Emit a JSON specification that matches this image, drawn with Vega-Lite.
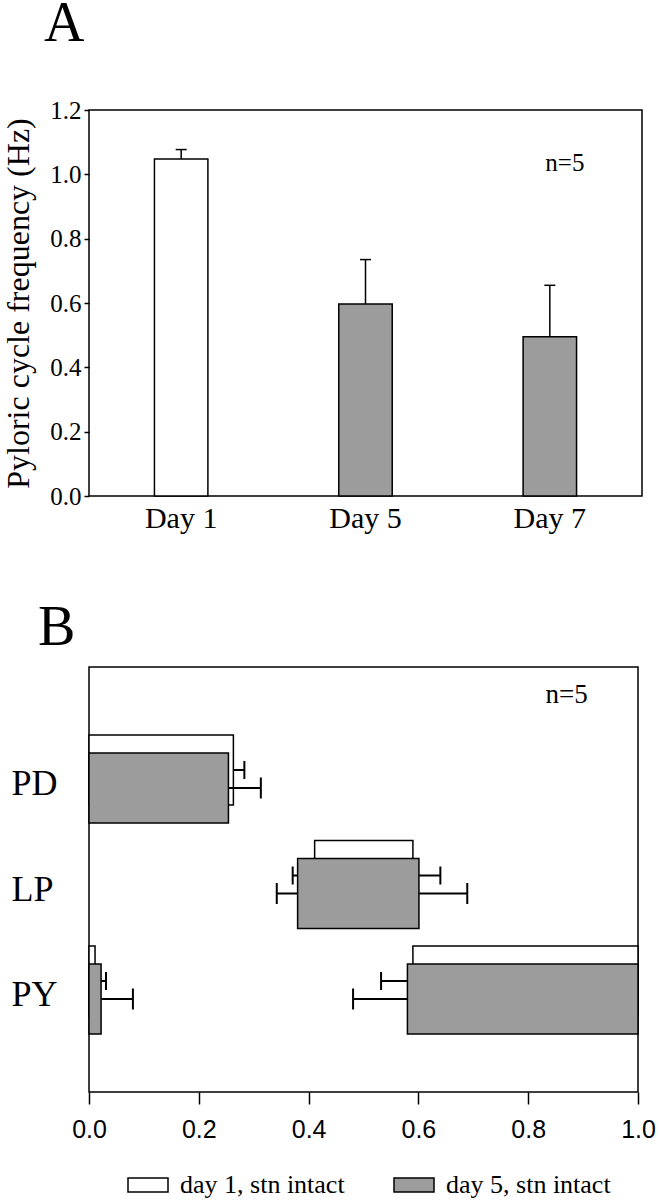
{
  "$schema": "https://vega.github.io/schema/vega-lite/v6.json",
  "padding": {"left": 2, "top": -5, "right": 10, "bottom": 0},
  "bounds": "flush",
  "spacing": 171,
  "background": "white",
  "config": {
    "view": {"stroke": "black", "strokeWidth": 1.5},
    "font": "Liberation Serif",
    "axis": {"domain": false, "grid": false, "labelColor": "black", "tickColor": "black", "titleColor": "black"},
    "title": {"color": "black"}
  },
  "resolve": {"scale": {"fill": "independent"}, "legend": {"fill": "independent"}},
  "vconcat": [
    {
      "width": 553,
      "height": 386,
      "title": {"text": "A", "anchor": "start", "frame": "group", "dx": -45, "fontSize": 56, "font": "Liberation Serif", "fontWeight": "normal", "baseline": "alphabetic", "offset": 1},
      "data": {"values": [
        {"day": "Day 1", "mean": 1.048, "err": 1.077},
        {"day": "Day 5", "mean": 0.597, "err": 0.735},
        {"day": "Day 7", "mean": 0.495, "err": 0.655}
      ]},
      "encoding": {
        "x": {"field": "day", "type": "nominal", "sort": null,
          "scale": {"paddingInner": 0.71, "paddingOuter": 0.355},
          "axis": {"title": null, "labelAngle": 0, "ticks": false, "labelFontSize": 30, "labelPadding": 7, "labelFont": "Liberation Serif"}}
      },
      "layer": [
        {
          "mark": {"type": "bar", "stroke": "black", "strokeWidth": 1.5},
          "encoding": {
            "y": {"field": "mean", "type": "quantitative", "scale": {"domain": [0, 1.2]},
              "axis": {"title": "Pyloric cycle frequency (Hz)", "titleFontSize": 32, "titleFont": "Liberation Serif", "titleFontWeight": "normal", "titlePadding": 14,
                "values": [0, 0.2, 0.4, 0.6, 0.8, 1.0, 1.2], "format": ".1f", "labelFontSize": 25, "labelFont": "Liberation Serif",
                "tickSize": 5, "tickWidth": 1.5, "labelPadding": 3}},
            "fill": {"field": "day", "type": "nominal", "scale": {"domain": ["Day 1", "Day 5", "Day 7"], "range": ["white", "#9c9c9c", "#9c9c9c"]}, "legend": null}
          }
        },
        {
          "mark": {"type": "rule", "stroke": "black", "strokeWidth": 1.5},
          "encoding": {"y": {"field": "mean", "type": "quantitative"}, "y2": {"field": "err"}}
        },
        {
          "mark": {"type": "tick", "orient": "horizontal", "size": 11, "thickness": 1.5, "color": "black", "opacity": 1},
          "encoding": {"y": {"field": "err", "type": "quantitative"}}
        },
        {
          "data": {"values": [{}]},
          "mark": {"type": "text", "text": "n=5", "fontSize": 25, "font": "Liberation Serif", "fontWeight": "normal", "dx": 15, "baseline": "middle", "color": "black"},
          "encoding": {"x": {"datum": "Day 7"}, "y": {"datum": 1.035}}
        }
      ]
    },
    {
      "width": 549,
      "height": 425,
      "title": {"text": "B", "anchor": "start", "frame": "group", "dx": -51, "fontSize": 56, "font": "Liberation Serif", "fontWeight": "normal", "baseline": "alphabetic", "offset": -34},
      "encoding": {
        "y": {"field": "neuron", "type": "nominal", "sort": ["PD", "LP", "PY"],
          "scale": {"domain": ["PD", "LP", "PY"], "paddingInner": 0.336, "paddingOuter": 0.682},
          "axis": {"title": null, "ticks": false, "labelAlign": "left", "labelPadding": 78, "labelFontSize": 36, "labelFont": "Liberation Serif", "labelBaseline": "middle", "labelOffset": 10}}
      },
      "layer": [
        {
          "data": {"values": [
            {"neuron": "PD", "day": "day 1, stn intact", "start": 0, "end": 0.263},
            {"neuron": "LP", "day": "day 1, stn intact", "start": 0.411, "end": 0.590},
            {"neuron": "PY", "day": "day 1, stn intact", "start": 0, "end": 0.011},
            {"neuron": "PY", "day": "day 1, stn intact", "start": 0.590, "end": 1.0}
          ]},
          "mark": {"type": "bar", "stroke": "black", "strokeWidth": 1.5, "yOffset": -4, "y2Offset": -4},
          "encoding": {
            "x": {"field": "start", "type": "quantitative", "scale": {"domain": [0, 1]},
              "axis": {"values": [0, 0.2, 0.4, 0.6, 0.8, 1.0], "format": ".1f", "title": null, "tickSize": 12, "tickWidth": 1.5,
                "labelFont": "Liberation Sans", "labelFontSize": 25, "labelPadding": 13, "labelFlush": false}},
            "x2": {"field": "end"},
            "fill": {"field": "day", "type": "nominal",
              "scale": {"domain": ["day 1, stn intact", "day 5, stn intact"], "range": ["white", "#9c9c9c"]},
              "legend": {"orient": "none", "legendX": 38, "legendY": 497, "direction": "horizontal", "title": null,
                "symbolType": "M-1,-0.35L1,-0.35L1,0.35L-1,0.35Z", "symbolSize": 1600, "symbolStrokeColor": "black", "symbolStrokeWidth": 1.5,
                "labelFontSize": 26, "labelFont": "Liberation Serif", "labelColor": "black", "labelOffset": 11, "columnPadding": 46, "labelLimit": 0}}
          }
        },
        {
          "data": {"values": [
            {"neuron": "PD", "from": 0.263, "to": 0.283},
            {"neuron": "LP", "from": 0.411, "to": 0.371},
            {"neuron": "LP", "from": 0.590, "to": 0.640},
            {"neuron": "PY", "from": 0.011, "to": 0.031},
            {"neuron": "PY", "from": 0.590, "to": 0.532}
          ]},
          "layer": [
            {"mark": {"type": "rule", "stroke": "black", "strokeWidth": 2, "yOffset": -4},
             "encoding": {"x": {"field": "from", "type": "quantitative"}, "x2": {"field": "to"}}},
            {"mark": {"type": "tick", "orient": "vertical", "size": 18, "thickness": 2, "color": "black", "opacity": 1, "yOffset": -4},
             "encoding": {"x": {"field": "to", "type": "quantitative"}}}
          ]
        },
        {
          "data": {"values": [
            {"neuron": "PD", "day": "day 5, stn intact", "start": 0, "end": 0.254},
            {"neuron": "LP", "day": "day 5, stn intact", "start": 0.380, "end": 0.601},
            {"neuron": "PY", "day": "day 5, stn intact", "start": 0, "end": 0.022},
            {"neuron": "PY", "day": "day 5, stn intact", "start": 0.580, "end": 1.0}
          ]},
          "mark": {"type": "bar", "stroke": "black", "strokeWidth": 1.5, "yOffset": 14, "y2Offset": 14},
          "encoding": {
            "x": {"field": "start", "type": "quantitative"},
            "x2": {"field": "end"},
            "fill": {"field": "day", "type": "nominal"}
          }
        },
        {
          "data": {"values": [
            {"neuron": "PD", "from": 0.254, "to": 0.313},
            {"neuron": "LP", "from": 0.380, "to": 0.342},
            {"neuron": "LP", "from": 0.601, "to": 0.689},
            {"neuron": "PY", "from": 0.022, "to": 0.080},
            {"neuron": "PY", "from": 0.580, "to": 0.481}
          ]},
          "layer": [
            {"mark": {"type": "rule", "stroke": "black", "strokeWidth": 2, "yOffset": 14},
             "encoding": {"x": {"field": "from", "type": "quantitative"}, "x2": {"field": "to"}}},
            {"mark": {"type": "tick", "orient": "vertical", "size": 21, "thickness": 2, "color": "black", "opacity": 1, "yOffset": 14},
             "encoding": {"x": {"field": "to", "type": "quantitative"}}}
          ]
        },
        {
          "data": {"values": [{}]},
          "mark": {"type": "text", "text": "n=5", "fontSize": 27, "font": "Liberation Serif", "fontWeight": "normal", "dy": -79, "baseline": "middle", "color": "black"},
          "encoding": {"x": {"datum": 0.87}, "y": {"datum": "PD"}}
        }
      ]
    }
  ]
}
